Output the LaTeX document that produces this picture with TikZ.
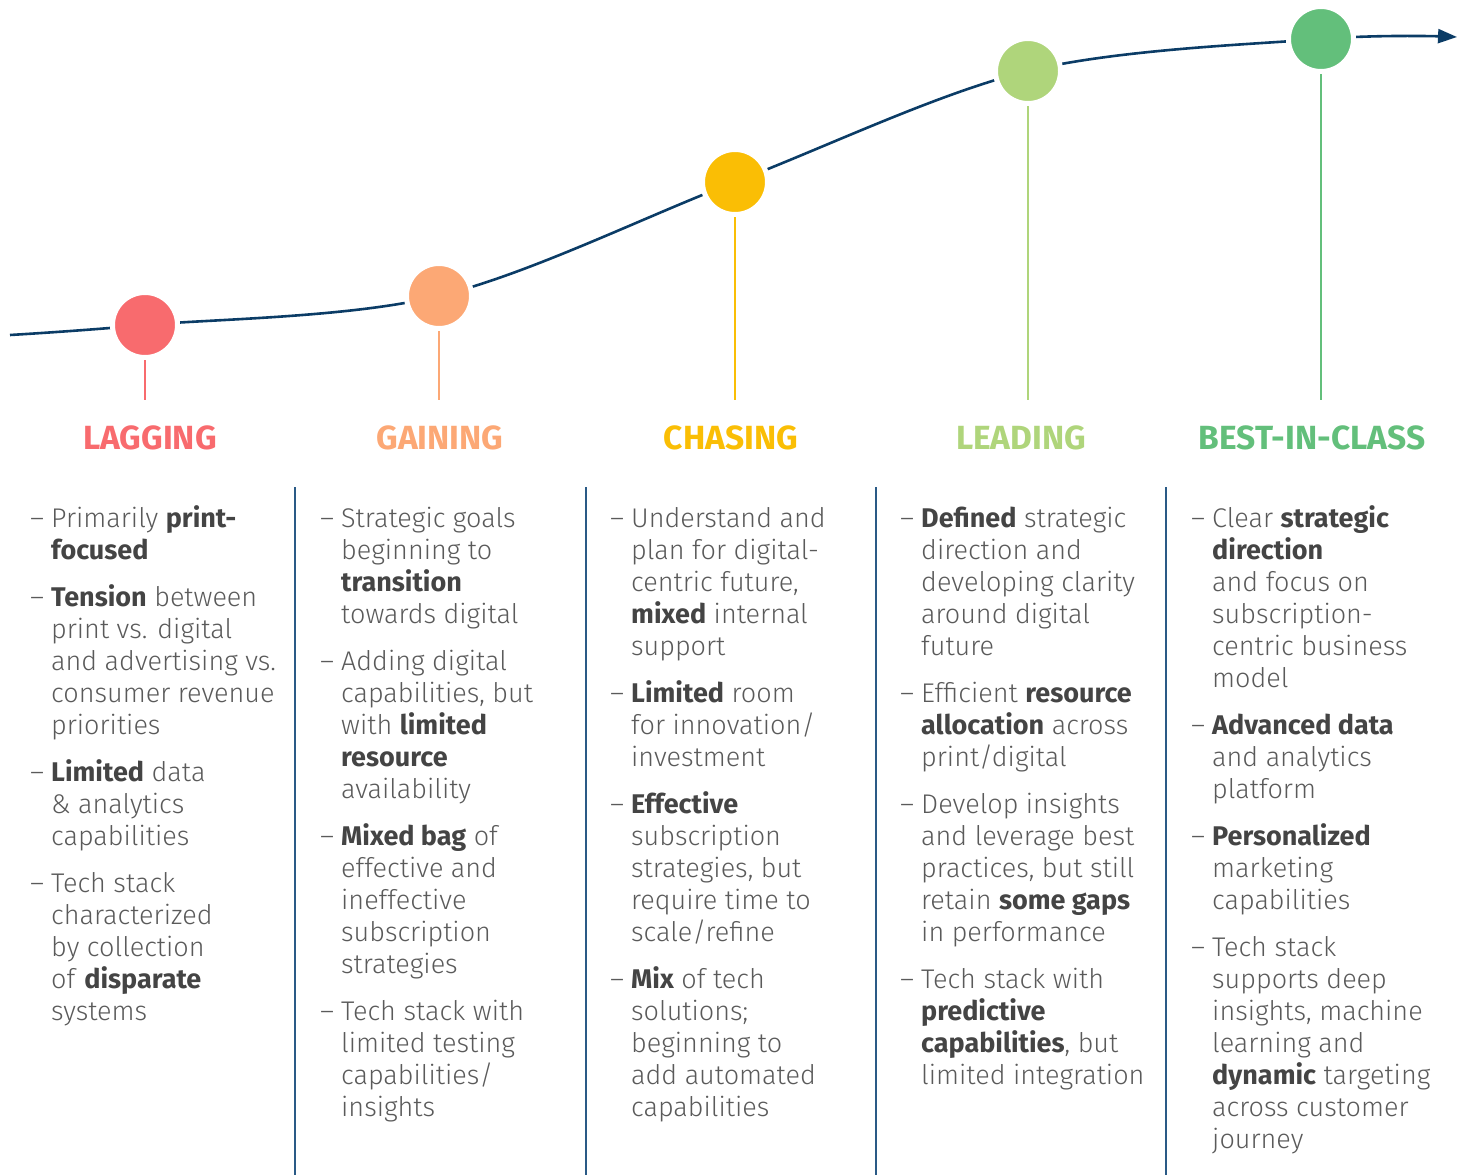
\documentclass[tikz,border=0pt]{standalone}
\usepackage{fontspec}
\setmainfont{Fira Sans Light}[BoldFont={Fira Sans Bold}]
\newfontfamily\headfont{Fira Sans Bold}
\usetikzlibrary{arrows.meta}
\definecolor{navy}{HTML}{0B3C66}
\definecolor{divcol}{HTML}{2A5A86}
\definecolor{lagcol}{HTML}{F86B6E}
\definecolor{gaincol}{HTML}{FCA875}
\definecolor{chasecol}{HTML}{FABE05}
\definecolor{leadcol}{HTML}{AFD57B}
\definecolor{bestcol}{HTML}{63BF7B}
\definecolor{txtgray}{HTML}{5A5A5A}
\definecolor{boldgray}{HTML}{444444}
\newcommand{\bul}{\makebox[21pt][l]{–}}
\newcommand{\B}[1]{\textbf{\color{boldgray}#1}}
\begin{document}
\begin{tikzpicture}[x=1pt,y=-1pt,
  curve/.style={draw=navy, line width=2.6pt},
  dot/.style={circle, fill=#1, draw=white, line width=5pt, minimum size=65pt, inner sep=0pt},
  stem/.style={draw=#1, line width=2pt},
  head/.style={text=#1, anchor=base, inner sep=0pt, font=\headfont\fontsize{33.5}{38}\selectfont},
  col/.style={anchor=base west, inner sep=0pt, text=txtgray, font=\fontsize{27}{32}\selectfont},
  divider/.style={draw=divcol, line width=1.8pt}]
\useasboundingbox (0,0) rectangle (1466,1175);
% curve
\coordinate (s) at (10,335);
\coordinate (p1) at (145,325);
\coordinate (p2) at (439,296);
\coordinate (p3) at (735,182);
\coordinate (p4) at (1028,71);
\coordinate (p5) at (1321,39);
\coordinate (e) at (1457,37);
\draw[curve, -{Triangle[length=19pt,width=14pt]}] plot[smooth, tension=0.55] coordinates {(s) (p1) (p2) (p3) (p4) (p5) (e)};
% circles
\node[dot=lagcol] (c1) at (p1) {};
\node[dot=gaincol] (c2) at (p2) {};
\node[dot=chasecol] (c3) at (p3) {};
\node[dot=leadcol] (c4) at (p4) {};
\node[dot=bestcol] (c5) at (p5) {};
\coordinate (sb) at (0,400);
\draw[stem=lagcol] (c1.south) -- (c1.south |- sb);
\draw[stem=gaincol] (c2.south) -- (c2.south |- sb);
\draw[stem=chasecol] (c3.south) -- (c3.south |- sb);
\draw[stem=leadcol] (c4.south) -- (c4.south |- sb);
\draw[stem=bestcol] (c5.south) -- (c5.south |- sb);
% headings
\node[head=lagcol] (h1) at (150,449) {LAGGING};
\node[head=gaincol] (h2) at (440,449) {GAINING};
\node[head=chasecol] (h3) at (731,449) {CHASING};
\node[head=leadcol] (h4) at (1021,449) {LEADING};
\node[head=bestcol] (h5) at (1312,449) {BEST-IN-CLASS};
% dividers
\draw[divider] (295,487) -- (295,1175);
\draw[divider] (586,487) -- (586,1175);
\draw[divider] (876,487) -- (876,1175);
\draw[divider] (1166,487) -- (1166,1175);
% columns
\node[col] (t1) at (30,527) {\begin{tabular}[t]{@{}l@{}l@{}}
\bul & Primarily \B{print-}\\
 & \B{focused}\\[15pt]
\bul & \B{Tension} between\\
 & print vs. digital\\
 & and advertising vs.\\
 & consumer revenue\\
 & priorities\\[15pt]
\bul & \B{Limited} data\\
 & \& analytics\\
 & capabilities\\[15pt]
\bul & Tech stack\\
 & characterized\\
 & by collection\\
 & of \B{disparate}\\
 & systems
\end{tabular}};
\node[col] (t2) at (320,527) {\begin{tabular}[t]{@{}l@{}l@{}}
\bul & Strategic goals\\
 & beginning to\\
 & \B{transition}\\
 & towards digital\\[15pt]
\bul & Adding digital\\
 & capabilities, but\\
 & with \B{limited}\\
 & \B{resource}\\
 & availability\\[15pt]
\bul & \B{Mixed bag} of\\
 & effective and\\
 & ineffective\\
 & subscription\\
 & strategies\\[15pt]
\bul & Tech stack with\\
 & limited testing\\
 & capabilities/\\
 & insights
\end{tabular}};
\node[col] (t3) at (610,527) {\begin{tabular}[t]{@{}l@{}l@{}}
\bul & Understand and\\
 & plan for digital-\\
 & centric future,\\
 & \B{mixed} internal\\
 & support\\[15pt]
\bul & \B{Limited} room\\
 & for innovation/\\
 & investment\\[15pt]
\bul & \B{Effective}\\
 & subscription\\
 & strategies, but\\
 & require time to\\
 & scale/refine\\[15pt]
\bul & \B{Mix} of tech\\
 & solutions;\\
 & beginning to\\
 & add automated\\
 & capabilities
\end{tabular}};
\node[col] (t4) at (900,527) {\begin{tabular}[t]{@{}l@{}l@{}}
\bul & \B{Defined} strategic\\
 & direction and\\
 & developing clarity\\
 & around digital\\
 & future\\[15pt]
\bul & Efficient \B{resource}\\
 & \B{allocation} across\\
 & print/digital\\[15pt]
\bul & Develop insights\\
 & and leverage best\\
 & practices, but still\\
 & retain \B{some gaps}\\
 & in performance\\[15pt]
\bul & Tech stack with\\
 & \B{predictive}\\
 & \B{capabilities}, but\\
 & limited integration
\end{tabular}};
\node[col] (t5) at (1191,527) {\begin{tabular}[t]{@{}l@{}l@{}}
\bul & Clear \B{strategic}\\
 & \B{direction}\\
 & and focus on\\
 & subscription-\\
 & centric business\\
 & model\\[15pt]
\bul & \B{Advanced data}\\
 & and analytics\\
 & platform\\[15pt]
\bul & \B{Personalized}\\
 & marketing\\
 & capabilities\\[15pt]
\bul & Tech stack\\
 & supports deep\\
 & insights, machine\\
 & learning and\\
 & \B{dynamic} targeting\\
 & across customer\\
 & journey
\end{tabular}};
\end{tikzpicture}
\end{document}
